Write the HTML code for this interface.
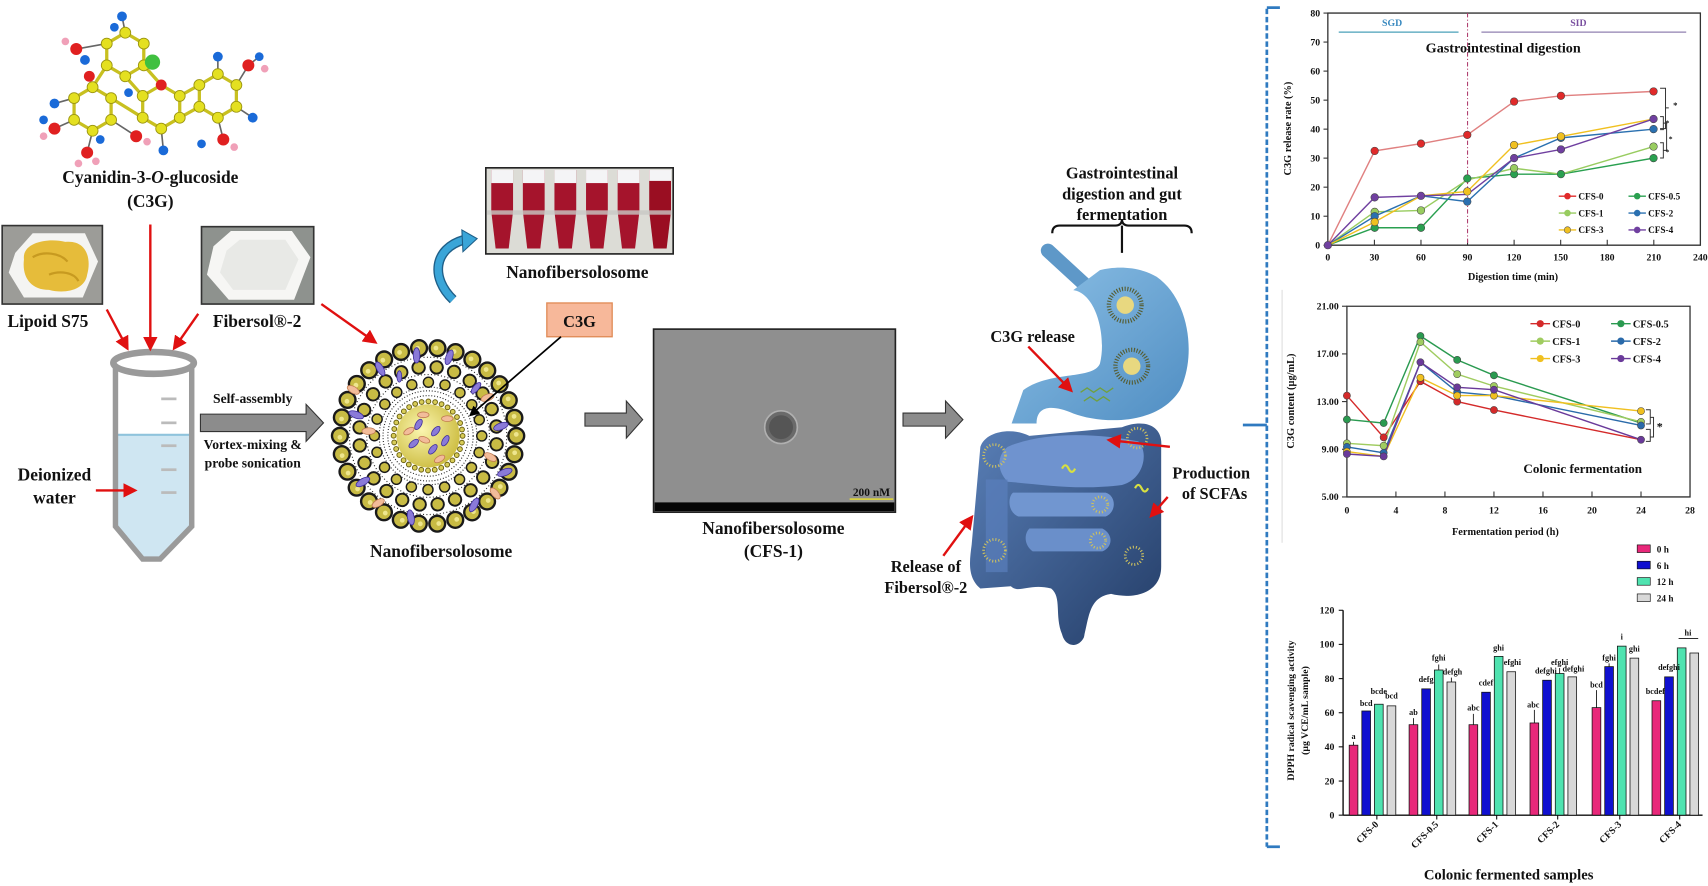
<!DOCTYPE html>
<html><head><meta charset="utf-8"><style>
html,body{margin:0;padding:0;background:#fff;}
svg{display:block;}
text{font-family:"Liberation Serif",serif;font-weight:bold;fill:#111;}
</style></head><body>
<svg width="1708" height="886" viewBox="0 0 1568 813" preserveAspectRatio="none" xmlns="http://www.w3.org/2000/svg">
<defs>
<radialGradient id="core" cx="0.4" cy="0.4" r="0.7"><stop offset="0" stop-color="#fbf6b0"/><stop offset="1" stop-color="#c9b838"/></radialGradient>
<linearGradient id="stom" x1="0" y1="0" x2="1" y2="1"><stop offset="0" stop-color="#8cc0e6"/><stop offset="1" stop-color="#4f8dc2"/></linearGradient>
<linearGradient id="gut" x1="0" y1="0" x2="1" y2="1"><stop offset="0" stop-color="#5a80b8"/><stop offset="1" stop-color="#233c66"/></linearGradient>
<marker id="ra" markerWidth="6" markerHeight="6" refX="4" refY="3" orient="auto" markerUnits="strokeWidth"><path d="M0,0 L6,3 L0,6 Z" fill="#e01010"/></marker>
<marker id="ka" markerWidth="6" markerHeight="6" refX="4" refY="3" orient="auto" markerUnits="strokeWidth"><path d="M0,0 L6,3 L0,6 Z" fill="#000"/></marker>
</defs>

<!-- Molecule -->
<g stroke="#c8c020" stroke-width="3">
<path d="M217,98 L200,108 L183,98 L183,78 L200,68 L217,78 Z M165,108 L148,118 L131,108 L131,88 L148,78 L165,88 Z M132,60 L115,70 L98,60 L98,40 L115,30 L132,40 Z M102,110 L85,120 L68,110 L68,90 L85,80 L102,90 Z M165,88 L183,78 M165,108 L183,98 M131,88 L115,70 M102,90 L131,108 M98,60 L85,80 M132,60 L148,78" fill="none"/>
</g>
<g stroke="#666" stroke-width="1.5">
<path d="M217,78 L228,60 M200,108 L205,128 M148,118 L150,138 M102,110 L125,125 M85,120 L80,140 M68,110 L50,118 M68,90 L50,95 M98,40 L70,45 M115,30 L112,15 M200,68 L200,52 M228,60 L238,52 M217,98 L232,108" fill="none"/>
</g>
<g fill="#e4e020" stroke="#9a9410" stroke-width="0.8">
<circle cx="217" cy="98" r="5"/><circle cx="200" cy="108" r="5"/><circle cx="183" cy="98" r="5"/><circle cx="183" cy="78" r="5"/><circle cx="200" cy="68" r="5"/><circle cx="217" cy="78" r="5"/>
<circle cx="165" cy="108" r="5"/><circle cx="148" cy="118" r="5"/><circle cx="131" cy="108" r="5"/><circle cx="131" cy="88" r="5"/><circle cx="165" cy="88" r="5"/>
<circle cx="132" cy="60" r="5"/><circle cx="115" cy="70" r="5"/><circle cx="98" cy="60" r="5"/><circle cx="98" cy="40" r="5"/><circle cx="115" cy="30" r="5"/><circle cx="132" cy="40" r="5"/>
<circle cx="102" cy="110" r="5"/><circle cx="85" cy="120" r="5"/><circle cx="68" cy="110" r="5"/><circle cx="68" cy="90" r="5"/><circle cx="85" cy="80" r="5"/><circle cx="102" cy="90" r="5"/>
</g>
<g fill="#e02020"><circle cx="148" cy="78" r="5"/><circle cx="228" cy="60" r="5.5"/><circle cx="205" cy="128" r="5.5"/><circle cx="125" cy="125" r="5.5"/><circle cx="80" cy="140" r="5.5"/><circle cx="50" cy="118" r="5.5"/><circle cx="70" cy="45" r="5.5"/><circle cx="82" cy="70" r="5"/></g>
<g fill="#1a6ad8"><circle cx="112" cy="15" r="4.5"/><circle cx="200" cy="52" r="4.5"/><circle cx="232" cy="108" r="4.5"/><circle cx="150" cy="138" r="4.5"/><circle cx="50" cy="95" r="4.5"/><circle cx="78" cy="55" r="4.5"/><circle cx="105" cy="25" r="4"/><circle cx="238" cy="52" r="4"/><circle cx="185" cy="132" r="4"/><circle cx="92" cy="128" r="4"/><circle cx="40" cy="110" r="4"/><circle cx="118" cy="85" r="4"/></g>
<g fill="#f0a0b8"><circle cx="60" cy="38" r="3.5"/><circle cx="243" cy="63" r="3.5"/><circle cx="215" cy="135" r="3.5"/><circle cx="88" cy="148" r="3.5"/><circle cx="40" cy="125" r="3.5"/><circle cx="135" cy="130" r="3.5"/><circle cx="72" cy="150" r="3.5"/></g>
<circle cx="140" cy="57" r="7" fill="#40c040"/>

<text x="138" y="168" font-size="16" text-anchor="middle">Cyanidin-3-<tspan font-style="italic">O</tspan>-glucoside</text>
<text x="138" y="190" font-size="16" text-anchor="middle">(C3G)</text>

<!-- photos -->
<rect x="2" y="207" width="92" height="72" fill="#9c9c98" stroke="#333" stroke-width="1.5"/>
<polygon points="14,232 30,214 78,214 90,240 76,273 22,273 8,250" fill="#f4f4f2"/>
<path d="M22,238 C20,222 45,218 60,222 C80,220 84,238 80,252 C78,266 60,270 45,266 C28,266 20,254 22,238 Z" fill="#e6bc3a"/>
<path d="M30,236 C40,230 55,232 62,240 M45,252 C55,248 68,250 72,258" stroke="#c79a20" stroke-width="2" fill="none"/>
<text x="44" y="300" font-size="16" text-anchor="middle">Lipoid S75</text>

<rect x="185" y="208" width="103" height="71" fill="#8e928e" stroke="#333" stroke-width="1.5"/>
<polygon points="196,226 212,212 268,212 285,236 270,275 210,275 190,252" fill="#f6f6f4"/>
<polygon points="208,230 220,220 262,220 274,238 262,266 214,266 202,250" fill="#e8e9e6"/>
<text x="236" y="300" font-size="16" text-anchor="middle">Fibersol®-2</text>

<!-- tube -->
<path d="M108,399 L174,399 L174,482 L147,511 L131,511 L108,482 Z" fill="#cfe6f2"/>
<line x1="108" y1="399" x2="174" y2="399" stroke="#8fc3dc" stroke-width="2"/>
<path d="M106,336 L106,483 L131,513 L147,513 L176,483 L176,336" fill="none" stroke="#9a9a9a" stroke-width="5"/>
<ellipse cx="141" cy="333" rx="37" ry="10" fill="#fff" stroke="#9a9a9a" stroke-width="6"/>
<g stroke="#bbb" stroke-width="2.5"><line x1="148" y1="366" x2="162" y2="366"/><line x1="148" y1="388" x2="162" y2="388"/><line x1="148" y1="409" x2="162" y2="409"/><line x1="148" y1="431" x2="162" y2="431"/><line x1="148" y1="452" x2="162" y2="452"/></g>
<text x="50" y="441" font-size="16" text-anchor="middle">Deionized</text>
<text x="50" y="462" font-size="16" text-anchor="middle">water</text>

<!-- red arrows -->
<g stroke="#e01010" stroke-width="2.2" fill="none" marker-end="url(#ra)">
<line x1="138" y1="206" x2="138" y2="318"/>
<line x1="98" y1="284" x2="116" y2="318"/>
<line x1="182" y1="288" x2="161" y2="318"/>
<line x1="88" y1="450" x2="122" y2="450"/>
<line x1="295" y1="279" x2="343" y2="313"/>
</g>

<!-- gray arrow 1 -->
<polygon points="184,380 281,380 281,371 297,388 281,405 281,396 184,396" fill="#8c8c8c" stroke="#333" stroke-width="1"/>
<text x="232" y="370" font-size="12.5" text-anchor="middle">Self-assembly</text>
<text x="232" y="412" font-size="12.5" text-anchor="middle">Vortex-mixing &amp;</text>
<text x="232" y="429" font-size="12.5" text-anchor="middle">probe sonication</text>

<!-- Nanofibersolosome -->
<g transform="translate(393,400) scale(0.88)" fill="none">
<circle r="82" stroke="#222" stroke-width="1.2" stroke-dasharray="1 2.5"/>
<circle r="64" stroke="#222" stroke-width="1.2" stroke-dasharray="1 2.5"/>
<circle r="42" stroke="#222" stroke-width="1.2" stroke-dasharray="1 2"/>
<circle r="47" stroke="#222" stroke-width="1.2" stroke-dasharray="1 2"/>
<circle r="51" stroke="#222" stroke-width="1.2" stroke-dasharray="1 2"/>
<circle r="92" stroke="#1a1a1a" stroke-width="19" stroke-dasharray="0 19.27" stroke-linecap="round"/>
<circle r="92" stroke="#c8bb44" stroke-width="14" stroke-dasharray="0 19.27" stroke-linecap="round"/>
<circle r="92" stroke="#eee68e" stroke-width="5" stroke-dasharray="0 19.27" stroke-linecap="round" transform="rotate(-1)"/>
<circle r="72" stroke="#1a1a1a" stroke-width="15" stroke-dasharray="0 18.85" stroke-linecap="round" transform="rotate(7)"/>
<circle r="72" stroke="#c8bb44" stroke-width="11" stroke-dasharray="0 18.85" stroke-linecap="round" transform="rotate(7)"/>
<circle r="56" stroke="#1a1a1a" stroke-width="12" stroke-dasharray="0 17.6" stroke-linecap="round"/>
<circle r="56" stroke="#c8bb44" stroke-width="9" stroke-dasharray="0 17.6" stroke-linecap="round"/>
<circle r="33" fill="url(#core)"/>
<circle r="36" stroke="#6a6010" stroke-width="6" stroke-dasharray="0 7.07" stroke-linecap="round"/>
<circle r="36" stroke="#d8cc58" stroke-width="4" stroke-dasharray="0 7.07" stroke-linecap="round"/>
<g stroke="#3b2a9a" stroke-width="0.8" fill="#8a7ad8">
<ellipse cx="-10" cy="-12" rx="3" ry="6" transform="rotate(30,-10,-12)"/><ellipse cx="8" cy="-5" rx="3" ry="6" transform="rotate(40,8,-5)"/><ellipse cx="-15" cy="8" rx="3" ry="6" transform="rotate(50,-15,8)"/><ellipse cx="5" cy="14" rx="3" ry="6" transform="rotate(40,5,14)"/><ellipse cx="18" cy="5" rx="3" ry="6" transform="rotate(30,18,5)"/>
<ellipse cx="-50" cy="-70" rx="3.5" ry="8" transform="rotate(-30,-50,-70)"/><ellipse cx="-12" cy="-84" rx="3.5" ry="8"/><ellipse cx="22" cy="-82" rx="3.5" ry="8" transform="rotate(20,22,-82)"/><ellipse cx="-75" cy="-22" rx="3.5" ry="8" transform="rotate(-70,-75,-22)"/><ellipse cx="76" cy="-10" rx="3.5" ry="8" transform="rotate(70,76,-10)"/><ellipse cx="-68" cy="48" rx="3.5" ry="8" transform="rotate(60,-68,48)"/><ellipse cx="-18" cy="85" rx="3.5" ry="8" transform="rotate(-10,-18,85)"/><ellipse cx="48" cy="72" rx="3.5" ry="8" transform="rotate(30,48,72)"/><ellipse cx="80" cy="38" rx="3.5" ry="8" transform="rotate(70,80,38)"/><ellipse cx="-30" cy="-62" rx="2.5" ry="6"/><ellipse cx="50" cy="-50" rx="3" ry="7" transform="rotate(40,50,-50)"/>
</g>
<g stroke="#c07a50" stroke-width="0.8" fill="#f2bc9a">
<ellipse cx="-5" cy="-22" rx="6" ry="3"/><ellipse cx="-20" cy="-5" rx="6" ry="3" transform="rotate(-30,-20,-5)"/><ellipse cx="20" cy="-18" rx="6" ry="3"/><ellipse cx="-4" cy="4" rx="6" ry="3" transform="rotate(20,-4,4)"/><ellipse cx="12" cy="24" rx="6" ry="3" transform="rotate(-30,12,24)"/>
<ellipse cx="-78" cy="-48" rx="7" ry="3.5" transform="rotate(30,-78,-48)"/><ellipse cx="62" cy="-40" rx="7" ry="3.5" transform="rotate(-20,62,-40)"/><ellipse cx="-62" cy="-5" rx="7" ry="3.5"/><ellipse cx="65" cy="22" rx="7" ry="3.5" transform="rotate(30,65,22)"/><ellipse cx="-52" cy="70" rx="7" ry="3.5" transform="rotate(-30,-52,70)"/><ellipse cx="70" cy="60" rx="7" ry="3.5" transform="rotate(50,70,60)"/>
</g>
</g>
<text x="405" y="511" font-size="16" text-anchor="middle">Nanofibersolosome</text>

<!-- C3G box -->
<rect x="502" y="278" width="60" height="31" fill="#f7b89a" stroke="#e08a55" stroke-width="1.2"/>
<text x="532" y="300" font-size="15" text-anchor="middle">C3G</text>
<line x1="515" y1="309" x2="433" y2="380" stroke="#000" stroke-width="1.6" marker-end="url(#ka)"/>

<!-- tubes photo -->
<rect x="446" y="154" width="172" height="79" fill="#dcdcd6" stroke="#222" stroke-width="1.5"/>
<g>
<path d="M451,156 h20 v38 l-4,34 h-12 l-4,-34 Z" fill="#a5142c"/>
<path d="M480,156 h20 v38 l-4,34 h-12 l-4,-34 Z" fill="#a5142c"/>
<path d="M509,156 h20 v38 l-4,34 h-12 l-4,-34 Z" fill="#a5142c"/>
<path d="M538,156 h20 v38 l-4,34 h-12 l-4,-34 Z" fill="#a5142c"/>
<path d="M567,156 h20 v38 l-4,34 h-12 l-4,-34 Z" fill="#a5142c"/>
<path d="M596,156 h20 v38 l-4,34 h-12 l-4,-34 Z" fill="#9a0e22"/>
<g fill="#f4f4f6"><rect x="451" y="156" width="20" height="12"/><rect x="480" y="156" width="20" height="12"/><rect x="509" y="156" width="20" height="12"/><rect x="538" y="156" width="20" height="12"/><rect x="567" y="156" width="20" height="12"/><rect x="596" y="156" width="20" height="10"/></g>
<rect x="447" y="193" width="170" height="4" fill="#c8c8c4" opacity="0.8"/>
</g>
<text x="530" y="255" font-size="16" text-anchor="middle">Nanofibersolosome</text>
<path d="M416,275 C395,255 398,228 426,220" fill="none" stroke="#1f5f88" stroke-width="9"/>
<path d="M416,275 C395,255 398,228 426,220" fill="none" stroke="#3aa5d8" stroke-width="6.5"/>
<polygon points="424,211 438,219 425,231" fill="#3aa5d8" stroke="#1f5f88" stroke-width="1"/>

<!-- gray arrows 2,3 -->
<polygon points="537,379 575,379 575,368 590,385 575,402 575,391 537,391" fill="#8c8c8c" stroke="#333" stroke-width="1"/>
<polygon points="829,379 868,379 868,368 884,385 868,402 868,391 829,391" fill="#8c8c8c" stroke="#333" stroke-width="1"/>

<!-- TEM -->
<rect x="600" y="302" width="222" height="168" fill="#8f8f8f" stroke="#222" stroke-width="1.5"/>
<rect x="601" y="461" width="220" height="8" fill="#050505"/>
<circle cx="717" cy="392" r="15" fill="#6a6a6a" stroke="#b0b0b0" stroke-width="1.5"/>
<circle cx="717" cy="392" r="11" fill="#555"/>
<line x1="780" y1="458" x2="820" y2="458" stroke="#d8d040" stroke-width="1.5"/>
<text x="800" y="455" font-size="10.5" text-anchor="middle">200 nM</text>
<text x="710" y="490" font-size="16" text-anchor="middle">Nanofibersolosome</text>
<text x="710" y="511" font-size="16" text-anchor="middle">(CFS-1)</text>

<!-- GI -->
<text x="1030" y="164" font-size="15" text-anchor="middle">Gastrointestinal</text>
<text x="1030" y="183" font-size="15" text-anchor="middle">digestion and gut</text>
<text x="1030" y="202" font-size="15" text-anchor="middle">fermentation</text>
<path d="M966,214 Q966,207 973,207 L1024,207 Q1030,207 1030,201 Q1030,207 1036,207 L1087,207 Q1094,207 1094,214 M1030,207 L1030,232" fill="none" stroke="#111" stroke-width="2"/>

<!-- intestines -->
<path d="M900,410 C905,395 930,392 945,400 L1030,392 C1050,384 1068,390 1066,410 L1066,520 C1066,545 1040,550 1020,545 C1000,548 1000,565 995,585 C990,595 978,594 975,582 C968,565 975,548 965,540 C945,535 935,545 928,538 L900,540 C888,530 890,515 892,500 Z" fill="url(#gut)"/>
<path d="M925,410 C960,395 1010,398 1045,405 C1055,415 1050,440 1030,445 C990,450 960,445 925,442 C915,432 915,418 925,410 Z" fill="#6f93cf"/>
<path d="M930,452 L1015,452 C1025,455 1025,470 1015,474 L935,474 C925,470 925,456 930,452 Z" fill="#7196d0"/>
<path d="M945,485 L1012,485 C1022,490 1022,502 1012,506 L948,506 C940,500 940,490 945,485 Z" fill="#6a8fca"/>
<path d="M905,440 L925,440 L925,525 L905,525 Z" fill="#5a7fbc" opacity="0.7"/>
<g fill="none" stroke="#ccc060" stroke-width="2.5" stroke-dasharray="1 1.8"><circle cx="913" cy="418" r="10"/><circle cx="913" cy="505" r="10"/><circle cx="1044" cy="402" r="9"/><circle cx="1041" cy="510" r="8"/><circle cx="1010" cy="463" r="7"/><circle cx="1008" cy="496" r="7"/></g>
<path d="M1042,448 q3,-6 6,0 t6,0" stroke="#d8e040" stroke-width="2" fill="none"/>
<path d="M975,430 q3,-6 6,0 t6,0" stroke="#d8e040" stroke-width="2" fill="none"/>

<!-- stomach -->
<line x1="962" y1="230" x2="999" y2="264" stroke="#5e98c8" stroke-width="13" stroke-linecap="round"/>
<path d="M985.3,266.2 C1006.7,269.3 1015.9,309.1 1009.8,333.5 C1003.7,348.8 963.9,339.7 939.4,358 L928.7,388.6 L951.6,388.6 C951.6,373.3 963.9,370.3 985.3,379.4 C1009.8,388.6 1061.8,391.7 1083.2,358 C1098.5,327.4 1092.4,275.4 1061.8,254 C1043.4,243.3 1022,244.8 1009.8,247.9 Z" fill="url(#stom)"/>
<g fill="none"><circle cx="1033" cy="280" r="15" stroke="#565c30" stroke-width="4" stroke-dasharray="1 1.5"/><circle cx="1033" cy="280" r="8" fill="#e8d880"/><circle cx="1039" cy="336" r="15" stroke="#565c30" stroke-width="4" stroke-dasharray="1 1.5"/><circle cx="1039" cy="336" r="8" fill="#e8d880"/></g>
<g stroke="#70a040" stroke-width="1.2" fill="none"><path d="M992,360 l6,-4 l6,4 l6,-4 l6,4 l6,-4 M995,368 l6,-4 l6,4 l6,-4 l6,4"/></g>
<text x="948" y="314" font-size="15" text-anchor="middle">C3G release</text>
<text x="1112" y="439" font-size="15" text-anchor="middle">Production</text>
<text x="1115" y="458" font-size="15" text-anchor="middle">of SCFAs</text>
<text x="850" y="525" font-size="15" text-anchor="middle">Release of</text>
<text x="850" y="544" font-size="15" text-anchor="middle">Fibersol®-2</text>
<g stroke="#e01010" stroke-width="2.2" fill="none" marker-end="url(#ra)">
<line x1="944" y1="318" x2="982" y2="357"/>
<line x1="1074" y1="410" x2="1020" y2="404"/>
<line x1="1072" y1="456" x2="1058" y2="472"/>
<line x1="866" y1="510" x2="891" y2="476"/>
</g>

<!-- dashed bracket -->
<line x1="1163" y1="8" x2="1163" y2="777" stroke="#2f7ac0" stroke-width="2.5" stroke-dasharray="5 2.5"/>
<line x1="1163" y1="7" x2="1175" y2="7" stroke="#2f7ac0" stroke-width="2.5"/>
<line x1="1163" y1="777" x2="1175" y2="777" stroke="#2f7ac0" stroke-width="2.5"/>
<line x1="1141" y1="390" x2="1163" y2="390" stroke="#2f7ac0" stroke-width="2.5"/>
<line x1="1177" y1="266" x2="1177" y2="498" stroke="#ddd" stroke-width="1"/>

<!-- CHART 1 -->
<g font-size="9">
<path d="M1219,12 L1219,225 L1561,225 L1561,12 Z" fill="none" stroke="#333" stroke-width="1.2"/>
<g stroke="#333" stroke-width="1">
<line x1="1215" y1="225" x2="1219" y2="225"/><line x1="1215" y1="198.4" x2="1219" y2="198.4"/><line x1="1215" y1="171.75" x2="1219" y2="171.75"/><line x1="1215" y1="145.1" x2="1219" y2="145.1"/><line x1="1215" y1="118.5" x2="1219" y2="118.5"/><line x1="1215" y1="91.9" x2="1219" y2="91.9"/><line x1="1215" y1="65.25" x2="1219" y2="65.25"/><line x1="1215" y1="38.6" x2="1219" y2="38.6"/><line x1="1215" y1="12" x2="1219" y2="12"/>
<line x1="1261.75" y1="225" x2="1261.75" y2="220"/><line x1="1304.5" y1="225" x2="1304.5" y2="220"/><line x1="1347.25" y1="225" x2="1347.25" y2="220"/><line x1="1390" y1="225" x2="1390" y2="220"/><line x1="1432.75" y1="225" x2="1432.75" y2="220"/><line x1="1475.5" y1="225" x2="1475.5" y2="220"/><line x1="1518.25" y1="225" x2="1518.25" y2="220"/>
</g>
<g text-anchor="end"><text x="1212" y="228">0</text><text x="1212" y="201.4">10</text><text x="1212" y="174.75">20</text><text x="1212" y="148.1">30</text><text x="1212" y="121.5">40</text><text x="1212" y="94.9">50</text><text x="1212" y="68.25">60</text><text x="1212" y="41.6">70</text><text x="1212" y="15">80</text></g>
<g text-anchor="middle"><text x="1219" y="239">0</text><text x="1261.75" y="239">30</text><text x="1304.5" y="239">60</text><text x="1347.25" y="239">90</text><text x="1390" y="239">120</text><text x="1432.75" y="239">150</text><text x="1475.5" y="239">180</text><text x="1518.25" y="239">210</text><text x="1561" y="239">240</text></g>
<text x="1389" y="257" text-anchor="middle" font-size="9.5">Digestion time (min)</text>
<text transform="translate(1185,118) rotate(-90)" text-anchor="middle" font-size="9.5">C3G release rate (%)</text>
<line x1="1347.25" y1="12" x2="1347.25" y2="225" stroke="#b04070" stroke-width="1" stroke-dasharray="4 2 1 2"/>
<line x1="1229" y1="29.5" x2="1339" y2="29.5" stroke="#4aa0b8" stroke-width="1.2"/>
<line x1="1360" y1="29.5" x2="1548" y2="29.5" stroke="#9080b0" stroke-width="1.2"/>
<text x="1278" y="24" text-anchor="middle" style="fill:#3a8ac0">SGD</text>
<text x="1449" y="24" text-anchor="middle" style="fill:#7a50a0">SID</text>
<text x="1380" y="48" text-anchor="middle" font-size="13">Gastrointestinal digestion</text>
<g fill="none" stroke-width="1.3">
<polyline stroke="#e08080" points="1219,225 1262,138.5 1304.5,131.8 1347,123.8 1390,93.2 1433,87.9 1518,83.9"/>
<polyline stroke="#2aa050" points="1219,225 1262,209 1304.5,209 1347,163.8 1390,159.8 1433,159.8 1518,145.1"/>
<polyline stroke="#98cc60" points="1219,225 1262,194.4 1304.5,193.1 1347,165.1 1390,154.4 1433,159.8 1518,134.5"/>
<polyline stroke="#2a70b0" points="1219,225 1262,198.4 1304.5,179.7 1347,185 1390,145.1 1433,126.5 1518,118.5"/>
<polyline stroke="#f0c020" points="1219,225 1262,203.7 1304.5,179.7 1347,175.7 1390,133.1 1433,125.2 1518,109.2"/>
<polyline stroke="#7040a0" points="1219,225 1262,181.1 1304.5,179.7 1347,178.4 1390,145.1 1433,137.1 1518,109.2"/>
</g>
<g stroke="#444" stroke-width="0.5">
<g fill="#e02a2a"><circle cx="1262" cy="138.5" r="3.5"/><circle cx="1304.5" cy="131.8" r="3.5"/><circle cx="1347" cy="123.8" r="3.5"/><circle cx="1390" cy="93.2" r="3.5"/><circle cx="1433" cy="87.9" r="3.5"/><circle cx="1518" cy="83.9" r="3.5"/></g>
<g fill="#2aa050"><circle cx="1262" cy="209" r="3.5"/><circle cx="1304.5" cy="209" r="3.5"/><circle cx="1347" cy="163.8" r="3.5"/><circle cx="1390" cy="159.8" r="3.5"/><circle cx="1433" cy="159.8" r="3.5"/><circle cx="1518" cy="145.1" r="3.5"/></g>
<g fill="#98cc60"><circle cx="1262" cy="194.4" r="3.5"/><circle cx="1304.5" cy="193.1" r="3.5"/><circle cx="1390" cy="154.4" r="3.5"/><circle cx="1518" cy="134.5" r="3.5"/></g>
<g fill="#2a70b0"><circle cx="1262" cy="198.4" r="3.5"/><circle cx="1347" cy="185" r="3.5"/><circle cx="1433" cy="126.5" r="3.5"/><circle cx="1518" cy="118.5" r="3.5"/></g>
<g fill="#f0c020"><circle cx="1262" cy="203.7" r="3.5"/><circle cx="1347" cy="175.7" r="3.5"/><circle cx="1390" cy="133.1" r="3.5"/><circle cx="1433" cy="125.2" r="3.5"/></g>
<g fill="#7040a0"><circle cx="1219" cy="225" r="3.5"/><circle cx="1262" cy="181.1" r="3.5"/><circle cx="1304.5" cy="179.7" r="3.5"/><circle cx="1390" cy="145.1" r="3.5"/><circle cx="1433" cy="137.1" r="3.5"/><circle cx="1518" cy="109.2" r="3.5"/></g>
</g>
<path d="M1524,81 h5 v37 h-5 M1529,99 h3 M1524,107 h3 v12 h-3 M1524,131 h3 v14 h-3 M1527,113 h3 v25 h-3" fill="none" stroke="#333" stroke-width="0.9"/>
<text x="1536" y="99" font-size="8">*</text><text x="1529" y="115" font-size="7">*</text><text x="1532" y="130" font-size="7">*</text><text x="1529" y="142" font-size="7">*</text>
<g stroke-width="1.2">
<line x1="1431" y1="180" x2="1447" y2="180" stroke="#e02a2a"/><circle cx="1439" cy="180" r="3" fill="#e02a2a"/>
<line x1="1431" y1="195.5" x2="1447" y2="195.5" stroke="#98cc60"/><circle cx="1439" cy="195.5" r="3" fill="#98cc60"/>
<line x1="1431" y1="211" x2="1447" y2="211" stroke="#f0c020"/><circle cx="1439" cy="211" r="3" fill="#f0c020" stroke="#555" stroke-width="0.5"/>
<line x1="1495" y1="180" x2="1511" y2="180" stroke="#2aa050"/><circle cx="1503" cy="180" r="3" fill="#2aa050"/>
<line x1="1495" y1="195.5" x2="1511" y2="195.5" stroke="#2a70b0"/><circle cx="1503" cy="195.5" r="3" fill="#2a70b0"/>
<line x1="1495" y1="211" x2="1511" y2="211" stroke="#7040a0"/><circle cx="1503" cy="211" r="3" fill="#7040a0"/>
</g>
<text x="1449" y="183" font-size="8.5">CFS-0</text><text x="1449" y="198.5" font-size="8.5">CFS-1</text><text x="1449" y="214" font-size="8.5">CFS-3</text>
<text x="1513" y="183" font-size="8.5">CFS-0.5</text><text x="1513" y="198.5" font-size="8.5">CFS-2</text><text x="1513" y="214" font-size="8.5">CFS-4</text>
</g>

<!-- CHART 2 -->
<g font-size="9">
<path d="M1236.5,281 L1236.5,456 L1551.5,456 L1551.5,281 Z" fill="none" stroke="#333" stroke-width="1.2"/>
<g stroke="#333"><line x1="1232" y1="281" x2="1236.5" y2="281"/><line x1="1232" y1="324.75" x2="1236.5" y2="324.75"/><line x1="1232" y1="368.5" x2="1236.5" y2="368.5"/><line x1="1232" y1="412.25" x2="1236.5" y2="412.25"/><line x1="1232" y1="456" x2="1236.5" y2="456"/>
<line x1="1281.5" y1="456" x2="1281.5" y2="451"/><line x1="1326.5" y1="456" x2="1326.5" y2="451"/><line x1="1371.5" y1="456" x2="1371.5" y2="451"/><line x1="1416.5" y1="456" x2="1416.5" y2="451"/><line x1="1461.5" y1="456" x2="1461.5" y2="451"/><line x1="1506.5" y1="456" x2="1506.5" y2="451"/></g>
<g text-anchor="end"><text x="1229" y="284">21.00</text><text x="1229" y="327.75">17.00</text><text x="1229" y="371.5">13.00</text><text x="1229" y="415.25">9.00</text><text x="1229" y="459">5.00</text></g>
<g text-anchor="middle"><text x="1236.5" y="471">0</text><text x="1281.5" y="471">4</text><text x="1326.5" y="471">8</text><text x="1371.5" y="471">12</text><text x="1416.5" y="471">16</text><text x="1461.5" y="471">20</text><text x="1506.5" y="471">24</text><text x="1551.5" y="471">28</text></g>
<text x="1382" y="491" text-anchor="middle" font-size="9.5">Fermentation period (h)</text>
<text transform="translate(1188,368) rotate(-90)" text-anchor="middle" font-size="9.5">C3G content (µg/mL)</text>
<text x="1453" y="434" text-anchor="middle" font-size="12">Colonic fermentation</text>
<g fill="none" stroke-width="1.3">
<polyline stroke="#d42a2a" points="1236.5,363 1270.25,401.3 1304,349.9 1337.75,368.5 1371.5,376.2 1506.5,403.5"/>
<polyline stroke="#2a9a50" points="1236.5,384.9 1270.25,388.2 1304,308.3 1337.75,330.2 1371.5,344.4 1506.5,388.2"/>
<polyline stroke="#a0cc60" points="1236.5,406.8 1270.25,409 1304,313.8 1337.75,343.3 1371.5,354.3 1506.5,387.1"/>
<polyline stroke="#2a6aaa" points="1236.5,410.1 1270.25,415.5 1304,332.4 1337.75,359.8 1371.5,363 1506.5,390.4"/>
<polyline stroke="#f0c020" points="1236.5,414.4 1270.25,418.8 1304,346.6 1337.75,363 1371.5,363 1506.5,377.2"/>
<polyline stroke="#6a3a9a" points="1236.5,416.6 1270.25,418.8 1304,332.4 1337.75,355.4 1371.5,357.6 1506.5,403.5"/>
</g>
<g stroke="#444" stroke-width="0.5">
<g fill="#d42a2a"><circle cx="1236.5" cy="363" r="3.3"/><circle cx="1270.25" cy="401.3" r="3.3"/><circle cx="1304" cy="349.9" r="3.3"/><circle cx="1337.75" cy="368.5" r="3.3"/><circle cx="1371.5" cy="376.2" r="3.3"/></g>
<g fill="#2a9a50"><circle cx="1236.5" cy="384.9" r="3.3"/><circle cx="1270.25" cy="388.2" r="3.3"/><circle cx="1304" cy="308.3" r="3.3"/><circle cx="1337.75" cy="330.2" r="3.3"/><circle cx="1371.5" cy="344.4" r="3.3"/></g>
<g fill="#a0cc60"><circle cx="1236.5" cy="406.8" r="3.3"/><circle cx="1270.25" cy="409" r="3.3"/><circle cx="1304" cy="313.8" r="3.3"/><circle cx="1337.75" cy="343.3" r="3.3"/><circle cx="1371.5" cy="354.3" r="3.3"/><circle cx="1506.5" cy="387.1" r="3.3"/></g>
<g fill="#2a6aaa"><circle cx="1236.5" cy="410.1" r="3.3"/><circle cx="1270.25" cy="415.5" r="3.3"/><circle cx="1337.75" cy="359.8" r="3.3"/><circle cx="1506.5" cy="390.4" r="3.3"/></g>
<g fill="#f0c020"><circle cx="1236.5" cy="414.4" r="3.3"/><circle cx="1304" cy="346.6" r="3.3"/><circle cx="1337.75" cy="363" r="3.3"/><circle cx="1371.5" cy="363" r="3.3"/><circle cx="1506.5" cy="377.2" r="3.3"/></g>
<g fill="#6a3a9a"><circle cx="1236.5" cy="416.6" r="3.3"/><circle cx="1270.25" cy="418.8" r="3.3"/><circle cx="1304" cy="332.4" r="3.3"/><circle cx="1337.75" cy="355.4" r="3.3"/><circle cx="1371.5" cy="357.6" r="3.3"/><circle cx="1506.5" cy="403.5" r="3.3"/></g>
</g>
<path d="M1511,376 h4 v13 h-4 M1515,383 h3 v18 h-3 M1511,394 h4 v11 h-4" fill="none" stroke="#333" stroke-width="0.9"/>
<text x="1521" y="395" font-size="11">*</text>
<g stroke-width="1.3">
<line x1="1405" y1="297" x2="1423" y2="297" stroke="#d42a2a"/><circle cx="1414" cy="297" r="3.3" fill="#d42a2a"/>
<line x1="1405" y1="313" x2="1423" y2="313" stroke="#a0cc60"/><circle cx="1414" cy="313" r="3.3" fill="#a0cc60"/>
<line x1="1405" y1="329" x2="1423" y2="329" stroke="#f0c020"/><circle cx="1414" cy="329" r="3.3" fill="#f0c020"/>
<line x1="1479" y1="297" x2="1497" y2="297" stroke="#2a9a50"/><circle cx="1488" cy="297" r="3.3" fill="#2a9a50"/>
<line x1="1479" y1="313" x2="1497" y2="313" stroke="#2a6aaa"/><circle cx="1488" cy="313" r="3.3" fill="#2a6aaa"/>
<line x1="1479" y1="329" x2="1497" y2="329" stroke="#6a3a9a"/><circle cx="1488" cy="329" r="3.3" fill="#6a3a9a"/>
</g>
<text x="1425" y="300.5" font-size="9.5">CFS-0</text><text x="1425" y="316.5" font-size="9.5">CFS-1</text><text x="1425" y="332.5" font-size="9.5">CFS-3</text>
<text x="1499" y="300.5" font-size="9.5">CFS-0.5</text><text x="1499" y="316.5" font-size="9.5">CFS-2</text><text x="1499" y="332.5" font-size="9.5">CFS-4</text>
</g>

<!-- CHART 3 -->
<g font-size="8.5">
<g stroke="#111" stroke-width="0.6">
<rect x="1503" y="500" width="12" height="7" fill="#e8287a"/>
<rect x="1503" y="515" width="12" height="7" fill="#1010d0"/>
<rect x="1503" y="530" width="12" height="7" fill="#4fe3b0"/>
<rect x="1503" y="545" width="12" height="7" fill="#d8d8d8"/>
</g>
<text x="1521" y="507">0 h</text><text x="1521" y="522">6 h</text><text x="1521" y="537">12 h</text><text x="1521" y="552">24 h</text>
<line x1="1233" y1="560" x2="1233" y2="748" stroke="#111" stroke-width="1.3"/>
<line x1="1233" y1="748" x2="1563" y2="748" stroke="#111" stroke-width="1.3"/>
<g stroke="#111"><line x1="1229" y1="560" x2="1233" y2="560"/><line x1="1229" y1="591.3" x2="1233" y2="591.3"/><line x1="1229" y1="622.7" x2="1233" y2="622.7"/><line x1="1229" y1="654" x2="1233" y2="654"/><line x1="1229" y1="685.3" x2="1233" y2="685.3"/><line x1="1229" y1="716.7" x2="1233" y2="716.7"/><line x1="1229" y1="748" x2="1233" y2="748"/>
<line x1="1264" y1="748" x2="1264" y2="752"/><line x1="1319" y1="748" x2="1319" y2="752"/><line x1="1374" y1="748" x2="1374" y2="752"/><line x1="1430" y1="748" x2="1430" y2="752"/><line x1="1487" y1="748" x2="1487" y2="752"/><line x1="1542" y1="748" x2="1542" y2="752"/></g>
<g text-anchor="end" font-size="9"><text x="1225" y="563">120</text><text x="1225" y="594.3">100</text><text x="1225" y="625.7">80</text><text x="1225" y="657">60</text><text x="1225" y="688.3">40</text><text x="1225" y="719.7">20</text><text x="1225" y="751">0</text></g>
<text transform="translate(1188,652) rotate(-90)" text-anchor="middle" font-size="9">DPPH radical scavenging activity</text>
<text transform="translate(1201,652) rotate(-90)" text-anchor="middle" font-size="9">(µg VCE/mL sample)</text>
<g stroke="#111" stroke-width="0.7">
<g fill="#e8287a"><rect x="1238.6" y="683.8" width="8" height="64.2"/><rect x="1293.6" y="665" width="8" height="83"/><rect x="1348.6" y="665" width="8" height="83"/><rect x="1404.6" y="663.4" width="8" height="84.6"/><rect x="1461.6" y="649.3" width="8" height="98.7"/><rect x="1516.6" y="643" width="8" height="105"/></g>
<g fill="#1010d0"><rect x="1250.2" y="652.4" width="8" height="95.6"/><rect x="1305.2" y="632.1" width="8" height="115.9"/><rect x="1360.2" y="635.2" width="8" height="112.8"/><rect x="1416.2" y="624.2" width="8" height="123.8"/><rect x="1473.2" y="611.7" width="8" height="136.3"/><rect x="1528.2" y="621.1" width="8" height="126.9"/></g>
<g fill="#4fe3b0"><rect x="1261.8" y="646.2" width="8" height="101.8"/><rect x="1316.8" y="614.8" width="8" height="133.2"/><rect x="1371.8" y="602.3" width="8" height="145.7"/><rect x="1427.8" y="618" width="8" height="130"/><rect x="1484.8" y="592.9" width="8" height="155.1"/><rect x="1539.8" y="594.5" width="8" height="153.5"/></g>
<g fill="#d8d8d8"><rect x="1273.4" y="647.7" width="8" height="100.3"/><rect x="1328.4" y="625.8" width="8" height="122.2"/><rect x="1383.4" y="616.4" width="8" height="131.6"/><rect x="1439.4" y="621.1" width="8" height="126.9"/><rect x="1496.4" y="603.9" width="8" height="144.1"/><rect x="1551.4" y="599.2" width="8" height="148.8"/></g>
</g>
<path d="M1242.6,683.8 v-3 M1297.6,665 v-6 M1352.6,665 v-10 M1408.6,663.4 v-12 M1465.6,649.3 v-16 M1477.2,611.7 v-3 M1320.8,614.8 v-5 M1332.4,625.8 v-4 M1431.8,618 v-5" stroke="#111" stroke-width="0.8" fill="none"/>
<g text-anchor="middle" font-size="7.5">
<text x="1242.6" y="678">a</text><text x="1254.2" y="648">bcd</text><text x="1265.8" y="637">bcde</text><text x="1277.4" y="641">bcd</text>
<text x="1297.6" y="656">ab</text><text x="1309.2" y="626">defg</text><text x="1320.8" y="606">fghi</text><text x="1333.4" y="619">defgh</text>
<text x="1352.6" y="652">abc</text><text x="1364.2" y="629">cdef</text><text x="1375.8" y="597">ghi</text><text x="1388.4" y="610">efghi</text>
<text x="1407.6" y="649">abc</text><text x="1419.2" y="618">defghi</text><text x="1431.8" y="610">efghi</text><text x="1444.4" y="616">defghi</text>
<text x="1465.6" y="631">bcd</text><text x="1477.2" y="606">fghi</text><text x="1488.8" y="587">i</text><text x="1500.4" y="598">ghi</text>
<text x="1519.6" y="637">bcdef</text><text x="1532.2" y="615">defghi</text><text x="1549.6" y="583">hi</text>
</g>
<line x1="1541" y1="586" x2="1559" y2="586" stroke="#111" stroke-width="0.8"/>
<g text-anchor="end" font-size="9">
<text transform="translate(1266,757) rotate(-45)">CFS-0</text>
<text transform="translate(1321,757) rotate(-45)">CFS-0.5</text>
<text transform="translate(1376,757) rotate(-45)">CFS-1</text>
<text transform="translate(1432,757) rotate(-45)">CFS-2</text>
<text transform="translate(1489,757) rotate(-45)">CFS-3</text>
<text transform="translate(1544,757) rotate(-45)">CFS-4</text>
</g>
<text x="1385" y="807" text-anchor="middle" font-size="13.5">Colonic fermented samples</text>
</g>
</svg>
</body></html>
